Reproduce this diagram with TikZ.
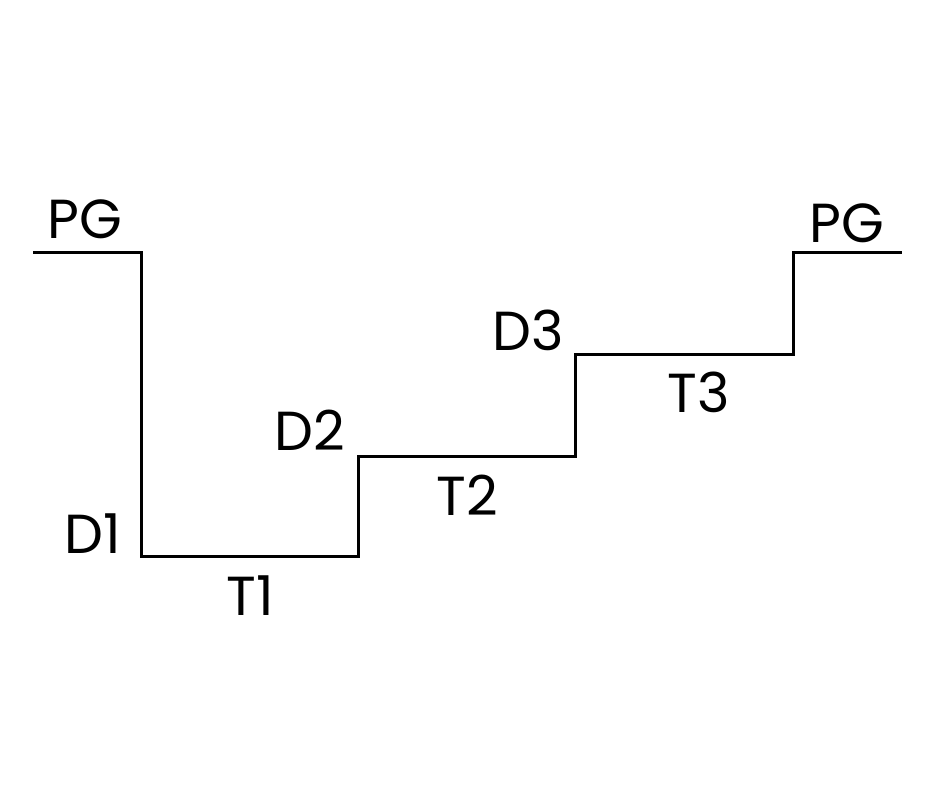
\documentclass[tikz,border=0pt]{standalone}
\usepackage{fontspec}
\setmainfont{Poppins}
\begin{document}
\begin{tikzpicture}[x=1pt,y=-1pt,
  lbl/.style={anchor=base,inner sep=0pt,font=\fontsize{55}{66}\selectfont},
  stair/.style={line width=3pt,line join=miter}]
\useasboundingbox (0,0) rectangle (940,788);
\coordinate (s) at (33,252);
\coordinate (a) at (141,252);
\coordinate (b) at (141,556);
\coordinate (c) at (358,556);
\coordinate (d) at (358,456);
\coordinate (e) at (575,456);
\coordinate (f) at (575,354);
\coordinate (g) at (793,354);
\coordinate (h) at (793,252);
\coordinate (t) at (902,252);
\draw[stair] (s) -- (a) -- (b) -- (c) -- (d) -- (e) -- (f) -- (g) -- (h) -- (t);
\node[lbl] (pg1) at (85,238) {PG};
\node[lbl] (pg2) at (847,242) {PG};
\node[lbl] (d1) at (93,553) {D1};
\node[lbl] (t1) at (250,615) {T1};
\node[lbl] (d2) at (310,450) {D2};
\node[lbl] (t2) at (467,515) {T2};
\node[lbl] (d3) at (528,350) {D3};
\node[lbl] (t3) at (699,412) {T3};
\end{tikzpicture}
\end{document}
